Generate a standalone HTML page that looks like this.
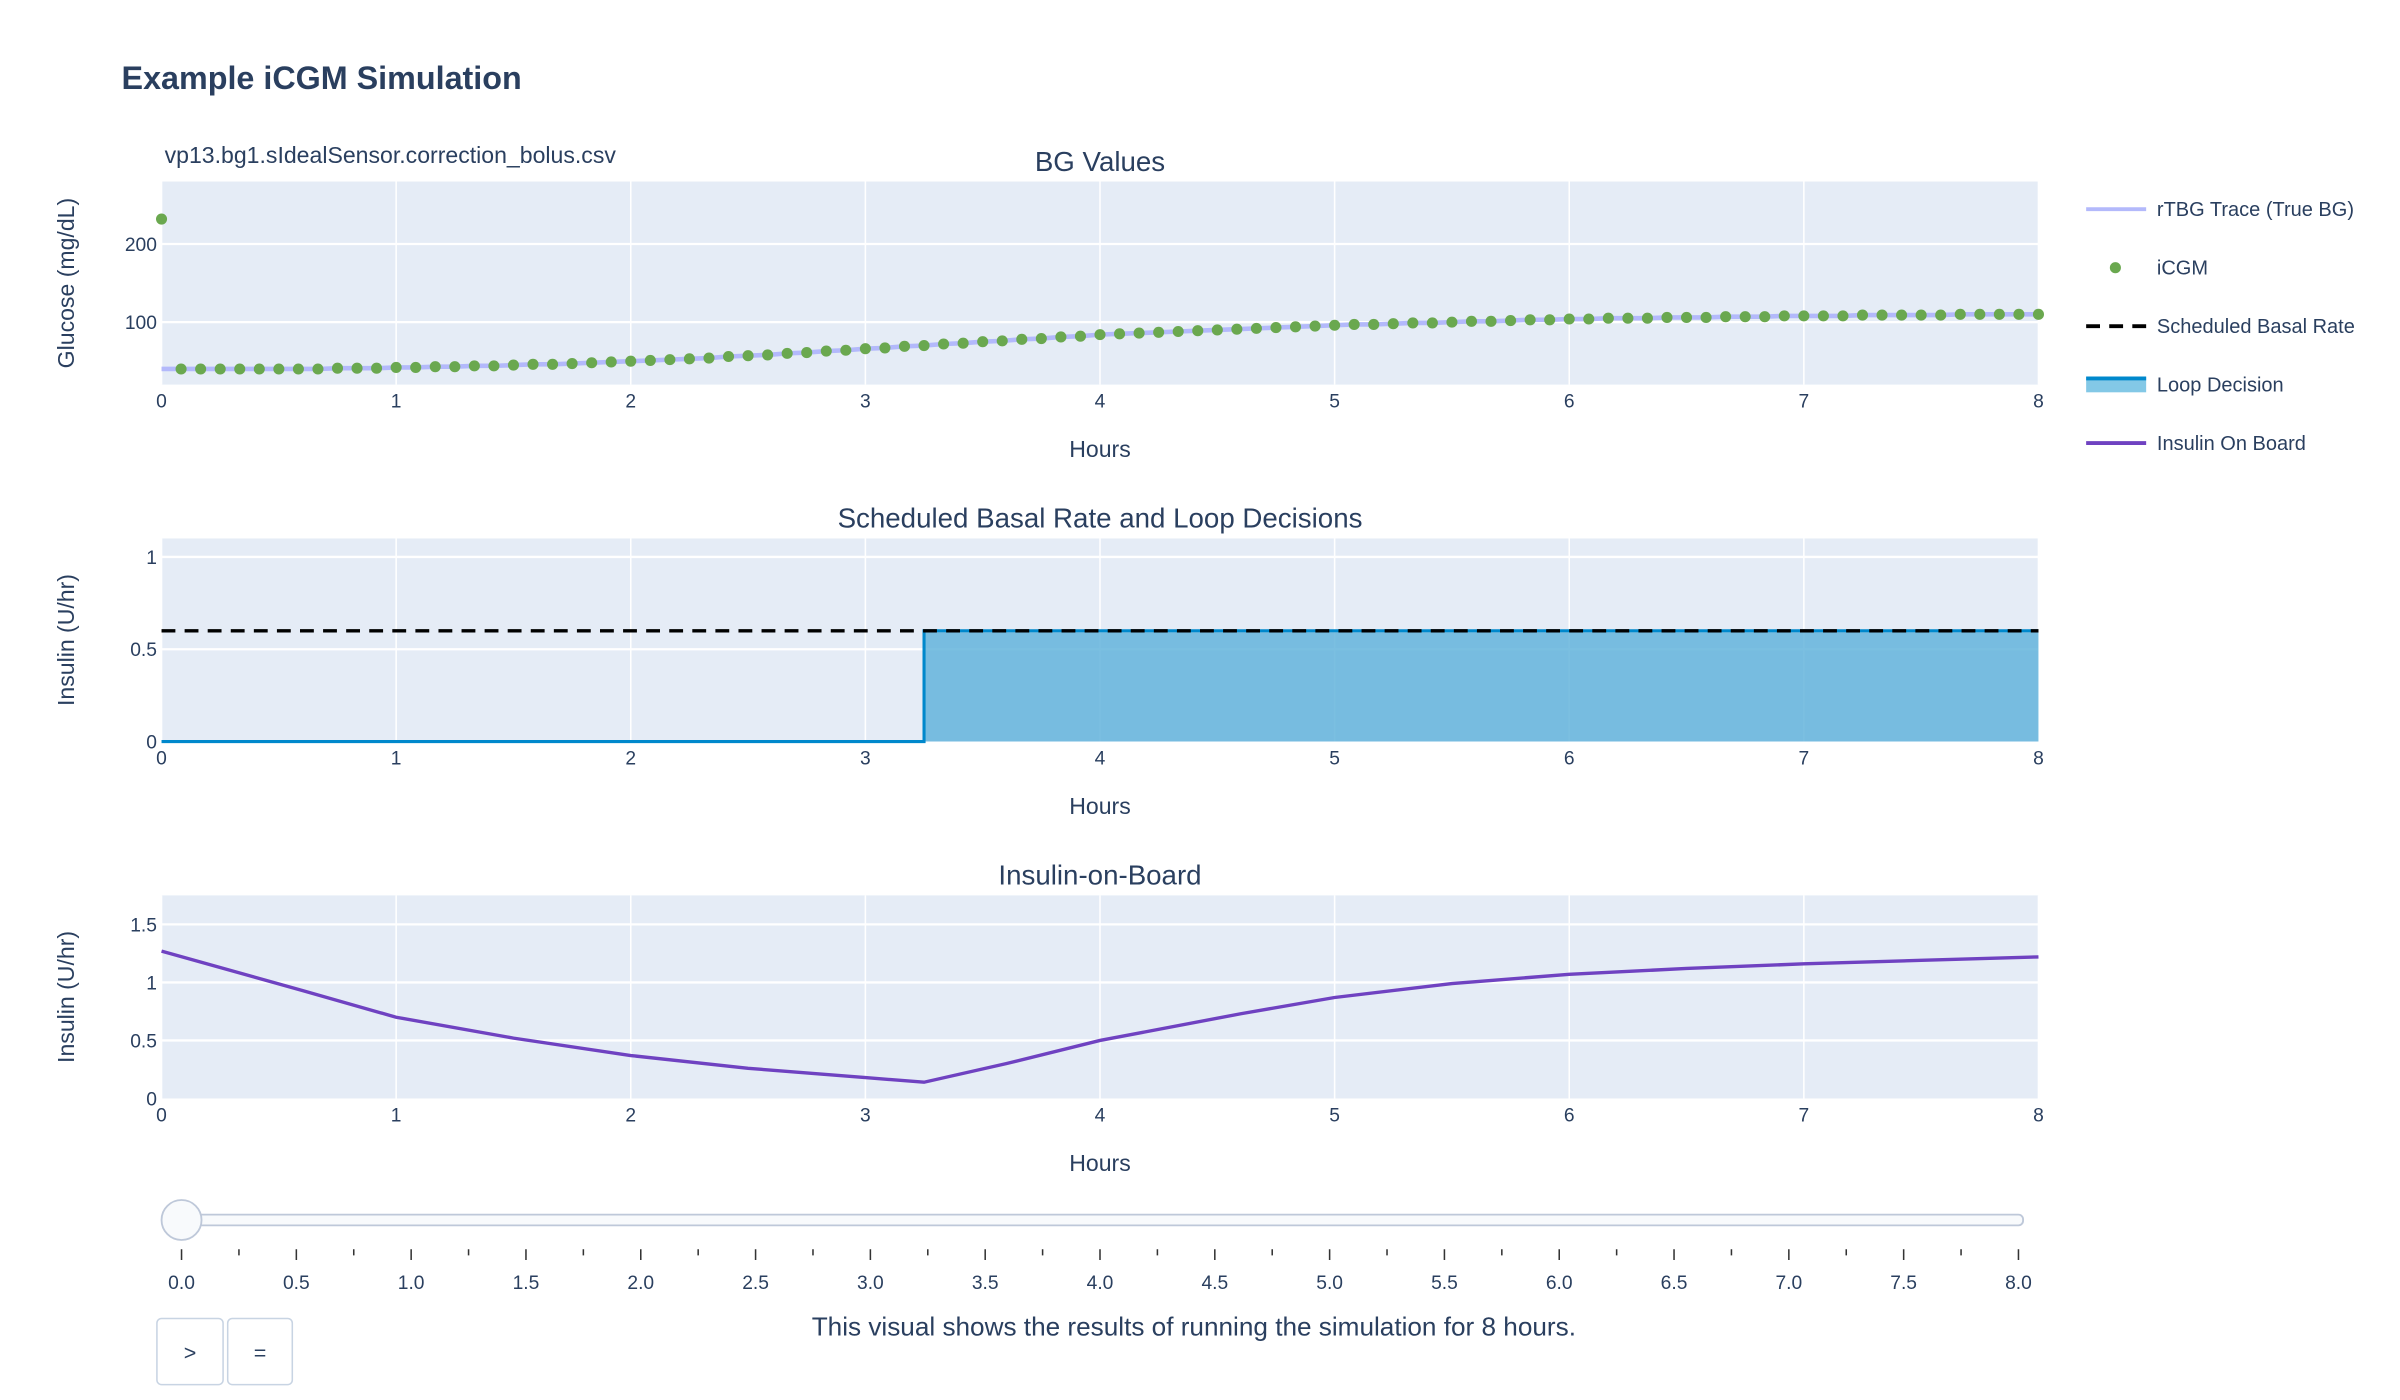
<!DOCTYPE html>
<html><head><meta charset="utf-8"><style>
html,body{margin:0;padding:0;background:#fff;}
svg{display:block;font-family:"Liberation Sans",sans-serif;}
</style></head><body>
<svg id="chart" width="2400" height="1400" viewBox="0 0 1560 910" xmlns="http://www.w3.org/2000/svg">
<text x="79" y="58" font-size="21" font-weight="bold" fill="#2a3f5f">Example iCGM Simulation</text>
<text x="107" y="106" font-size="15" fill="#2a3f5f">vp13.bg1.sIdealSensor.correction_bolus.csv</text>
<text x="776" y="868" font-size="17" fill="#2a3f5f" text-anchor="middle">This visual shows the results of running the simulation for 8 hours.</text>
<g id="plots"></g>
<g id="legend"></g>
<g id="slider"></g>
<g><rect x="102" y="857" width="43" height="43" rx="3" fill="#fff" stroke="#c8d4e3"/><text x="123.5" y="884" font-size="14" text-anchor="middle" fill="#2a3f5f">&gt;</text></g>
<g><rect x="148" y="857" width="42" height="43" rx="3" fill="#fff" stroke="#c8d4e3"/><text x="169" y="884" font-size="14" text-anchor="middle" fill="#2a3f5f">=</text></g>
</svg>
<script>
// ---- data ----
const icgmValues = [232,
40,40,40,40,40,40,40,40,41,41,41,42,
42,43,43,44,44,45,46,46,47,48,49,50,
51,52,53,54,56,57,58,60,61,63,64,66,
67,69,70,72,73,75,76,78,79,81,82,84,
85,86,87,88,89,90,91,92,93,94,95,96,
97,97,98,99,99,100,101,101,102,103,103,104,
104,105,105,105,106,106,106,107,107,107,108,108,
108,108,109,109,109,109,109,110,110,110,110,110];
const tbgValues = [40,
40,40,40,40,40,40,40,40,41,41,41,42,
42,43,43,44,44,45,46,46,47,48,49,50,
51,52,53,54,56,57,58,60,61,63,64,66,
67,69,70,72,73,75,76,78,79,81,82,84,
85,86,87,88,89,90,91,92,93,94,95,96,
97,97,98,99,99,100,101,101,102,103,103,104,
104,105,105,105,106,106,106,107,107,107,108,108,
108,108,109,109,109,109,109,110,110,110,110,110];
const basalHours = [0, 8];
const basalValues = [0.6, 0.6];
const loopHours = [0, 3.25, 3.25, 8];
const loopValues = [0, 0, 0.6, 0.6];
const iobHours = [0,0.6,1,1.5,2,2.5,3,3.25,3.6,4,4.6,5,5.5,6,6.5,7,7.5,8];
const iobValues = [1.27,0.93,0.7,0.52,0.37,0.26,0.18,0.14,0.3,0.5,0.73,0.87,0.99,1.07,1.12,1.16,1.19,1.22];
const xTicks = [0,1,2,3,4,5,6,7,8];
const bgTicks = [100,200];
const basalTicks = [0,0.5,1];
const basalTickLabels = ["0","0.5","1"];
const iobTicks = [0,0.5,1,1.5];
const iobTickLabels = ["0","0.5","1","1.5"];
const sliderSteps = [0,0.5,1,1.5,2,2.5,3,3.5,4,4.5,5,5.5,6,6.5,7,7.5,8];

const NS="http://www.w3.org/2000/svg";
function mk(tag, attrs, parent){const e=document.createElementNS(NS,tag);for(const k in attrs)e.setAttribute(k,attrs[k]);parent.appendChild(e);return e;}
const plots=document.getElementById('plots');
const X0=105,X1=1325;
const xs=h=>X0+(h/8)*(X1-X0);
function axes(top,bot,ymin,ymax,yt,ytl,title,ytitle,name){
  const g=mk('g',{},plots);
  
  
  const ys=v=>bot-(v-ymin)/(ymax-ymin)*(bot-top);
  const bg=mk('rect',{x:X0,y:top,width:X1-X0,height:bot-top,fill:'#E5ECF6'},g);
  
  
  xTicks.forEach(t=>{
    mk('line',{x1:xs(t),x2:xs(t),y1:top,y2:bot,stroke:'#fff','stroke-width':1},g);
    const tl=mk('text',{x:xs(t),y:bot+15,'font-size':12.5,'text-anchor':'middle',fill:'#2a3f5f'},g);
    tl.textContent=t;
    
    
  });
  yt.forEach((t,i)=>{
    mk('line',{x1:X0,x2:X1,y1:ys(t),y2:ys(t),stroke:'#fff','stroke-width':t===ymin?0:1.5},g);
    const tl=mk('text',{x:X0-3,y:ys(t)+4.5,'font-size':12.5,'text-anchor':'end',fill:'#2a3f5f'},g);
    tl.textContent=ytl?ytl[i]:t;
    
    
  });
  const tt=mk('text',{x:715,y:top-7,'font-size':18,'text-anchor':'middle',fill:'#2a3f5f'},g);
  tt.textContent=title;
  
  
  const xt=mk('text',{x:715,y:bot+47,'font-size':15,'text-anchor':'middle',fill:'#2a3f5f'},g);
  xt.textContent='Hours';
  
  
  const cy=(top+bot)/2;
  const yl=mk('text',{x:48,y:cy,'font-size':15,'text-anchor':'middle',fill:'#2a3f5f',transform:`rotate(-90 48 ${cy})`},g);
  yl.textContent=ytitle;
  
  
  return {g,ys};
}
// Plot 1
const p1=axes(118,250,20,280,bgTicks,null,'BG Values','Glucose (mg/dL)','bg-values-plot');
const tl1=mk('polyline',{points:tbgValues.map((v,i)=>xs(i/12)+','+p1.ys(v)).join(' '),fill:'none',stroke:'#b3b9fb','stroke-width':3},p1.g);


icgmValues.forEach((v,i)=>{
  const c=mk('circle',{cx:xs(i/12),cy:p1.ys(v),r:3.6,fill:'#6aa84f'},p1.g);
  
  
});
// Plot 2
const p2=axes(350,482,0,1.1,basalTicks,basalTickLabels,'Scheduled Basal Rate and Loop Decisions','Insulin (U/hr)','basal-loop-plot');
const area=mk('path',{d:'M'+loopHours.map((h,i)=>xs(h)+','+p2.ys(loopValues[i])).join(' L')+` L${xs(8)},${p2.ys(0)} L${xs(0)},${p2.ys(0)} Z`,fill:'rgba(100,180,220,0.85)',stroke:'none'},p2.g);


const ll=mk('polyline',{points:loopHours.map((h,i)=>xs(h)+','+p2.ys(loopValues[i])).join(' '),fill:'none',stroke:'#0088cc','stroke-width':2},p2.g);


const bl=mk('polyline',{points:basalHours.map((h,i)=>xs(h)+','+p2.ys(basalValues[i])).join(' '),fill:'none',stroke:'#000','stroke-width':2.2,'stroke-dasharray':'9,6'},p2.g);


// Plot 3
const p3=axes(582,714,0,1.75,iobTicks,iobTickLabels,'Insulin-on-Board','Insulin (U/hr)','iob-plot');
const il=mk('polyline',{points:iobHours.map((h,i)=>xs(h)+','+p3.ys(iobValues[i])).join(' '),fill:'none',stroke:'#6f42c1','stroke-width':2.2},p3.g);


// Legend
const lg=document.getElementById('legend');
const items=[['rTBG Trace (True BG)','line','#b3b9fb'],[' iCGM','dot','#6aa84f'],['Scheduled Basal Rate','dash','#000'],['Loop Decision','fill','#0088cc'],['Insulin On Board','line','#6f42c1']];
items.forEach((it,i)=>{
  const y=136+i*38;
  const g=mk('g',{},lg);
  
  
  if(it[1]==='line')mk('line',{x1:1356,x2:1395,y1:y,y2:y,stroke:it[2],'stroke-width':2.5},g);
  if(it[1]==='dot')mk('circle',{cx:1375,cy:y,r:3.6,fill:it[2]},g);
  if(it[1]==='dash')mk('line',{x1:1356,x2:1395,y1:y,y2:y,stroke:it[2],'stroke-width':2.5,'stroke-dasharray':'9,6'},g);
  if(it[1]==='fill'){mk('rect',{x:1356,y:y-5,width:39,height:10,fill:'#83c8e6'},g);mk('line',{x1:1356,x2:1395,y1:y-4,y2:y-4,stroke:it[2],'stroke-width':2.5},g);}
  const t=mk('text',{x:1402,y:y+4.5,'font-size':13,fill:'#2a3f5f'},g);
  t.textContent=it[0];
});
// Slider
const sl=document.getElementById('slider');
const S0=118,S1=1312;
const ss=v=>S0+v/8*(S1-S0);
mk('rect',{x:S0,y:789.5,width:S1-S0+3,height:7,rx:3,fill:'#f8fafc',stroke:'#bec8d9','stroke-width':1.2},sl);
sliderSteps.forEach((v,i)=>{
  mk('line',{x1:ss(v),x2:ss(v),y1:812,y2:819,stroke:'#333','stroke-width':1},sl);
  if(i<sliderSteps.length-1)mk('line',{x1:ss(v+0.25),x2:ss(v+0.25),y1:812,y2:816,stroke:'#333','stroke-width':1},sl);
  const t=mk('text',{x:ss(v),y:838,'font-size':12.5,'text-anchor':'middle',fill:'#2a3f5f'},sl);
  t.textContent=v.toFixed(1);
  
  
});
const knob=mk('circle',{cx:S0,cy:793,r:13,fill:'#f8fafc',stroke:'#bec8d9','stroke-width':1.2},sl);


</script>
</body></html>
